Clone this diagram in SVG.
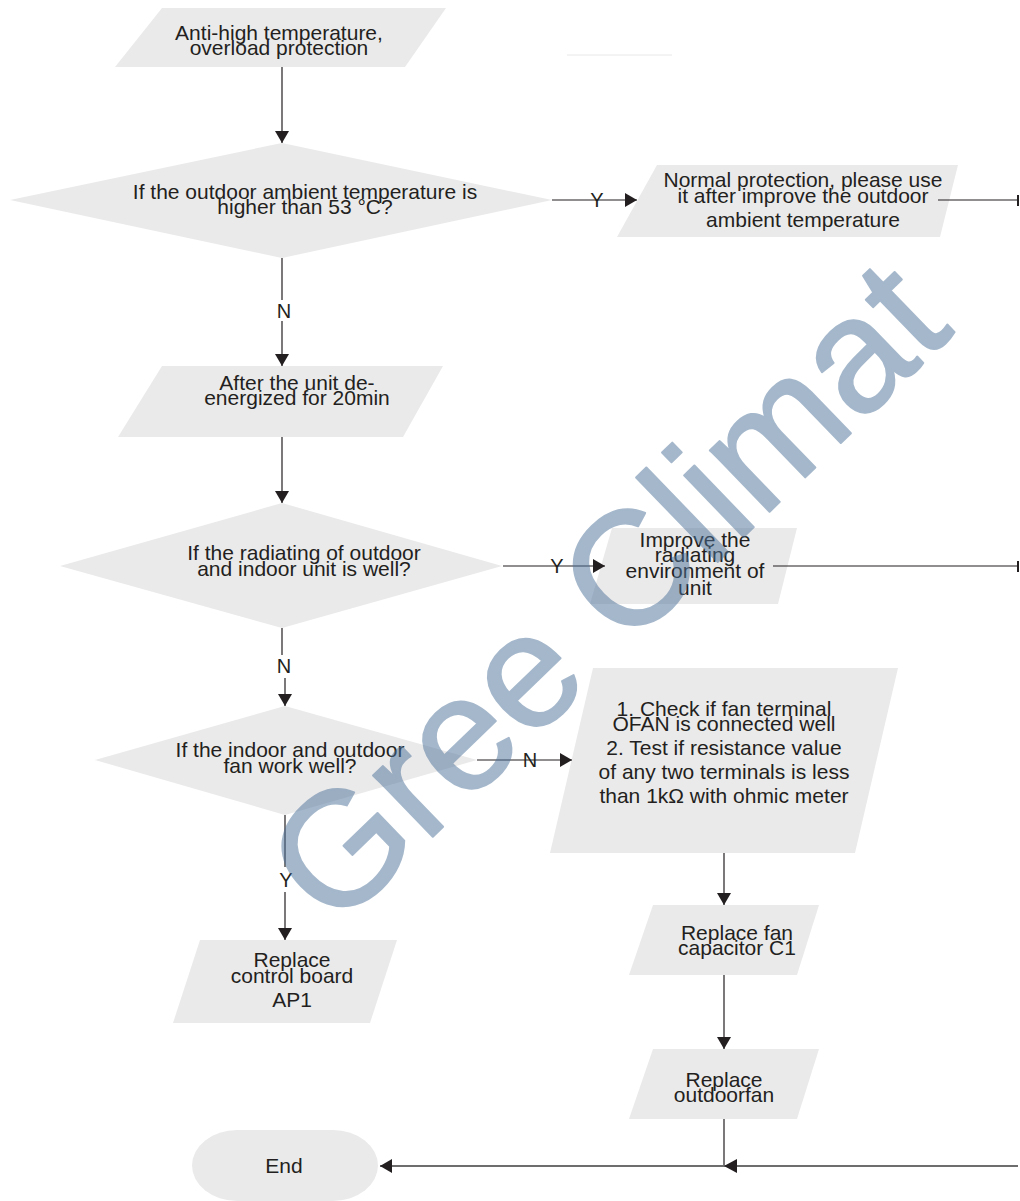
<svg xmlns="http://www.w3.org/2000/svg" width="1020" height="1201" viewBox="0 0 1020 1201">
<defs>
<style>
.n{fill:#ebeaeb;stroke:none}
.t{font-family:"Liberation Sans",Arial,sans-serif;font-size:21px;fill:#231f20;text-anchor:middle}
.c{stroke:#231f20;stroke-width:1.2;fill:none}
.lb{font-family:"Liberation Sans",Arial,sans-serif;font-size:20px;fill:#231f20;text-anchor:middle}
.wm{font-family:"Liberation Sans",Arial,sans-serif;font-size:162px;fill:#4b7199;stroke:#4b7199;stroke-width:2;stroke-linejoin:round;text-anchor:middle}
</style>
<marker id="ah" viewBox="0 0 12 14" refX="12" refY="7" markerWidth="12" markerHeight="14" markerUnits="userSpaceOnUse" orient="auto">
<path d="M0,0 L12,7 L0,14 Z" fill="#231f20"/>
</marker>
</defs>
<rect width="1020" height="1201" fill="#ffffff"/>
<line x1="567" y1="55" x2="672" y2="55" stroke="#e8e8e8" stroke-width="1"/>

<g id="n-start">
<polygon class="n" points="162,8 446,8 405,67 115,67"/>
<text class="t"><tspan x="279" y="40">Anti-high temperature,</tspan><tspan x="279" y="55">overload protection</tspan></text>
</g>
<g id="n-d1">
<polygon class="n" points="282,143 552,200 282,258 10,200"/>
<text class="t"><tspan x="305" y="199">If the outdoor ambient temperature is</tspan><tspan x="305" y="214">higher than 53 °C?</tspan></text>
</g>
<g id="n-normal">
<polygon class="n" points="657,165 958,165 940,237 617,237"/>
<text class="t"><tspan x="803" y="187">Normal protection, please use</tspan><tspan x="803" y="203">it after improve the outdoor</tspan><tspan x="803" y="227">ambient temperature</tspan></text>
</g>
<g id="n-after">
<polygon class="n" points="162,366 443,366 403,437 118,437"/>
<text class="t"><tspan x="297" y="390">After the unit de-</tspan><tspan x="297" y="405">energized for 20min</tspan></text>
</g>
<g id="n-d2">
<polygon class="n" points="282,503 502,566 282,628 60,566"/>
<text class="t"><tspan x="304" y="560">If the radiating of outdoor</tspan><tspan x="304" y="576">and indoor unit is well?</tspan></text>
</g>
<g id="n-improve">
<polygon class="n" points="612,528 797,528 778,604 590,604"/>
<text class="t"><tspan x="695" y="547">Improve the</tspan><tspan x="695" y="562">radiating</tspan><tspan x="695" y="578">environment of</tspan><tspan x="695" y="595">unit</tspan></text>
</g>
<g id="n-d3">
<polygon class="n" points="285,706 477,760 285,815 95,760"/>
<text class="t"><tspan x="290" y="757">If the indoor and outdoor</tspan><tspan x="290" y="773">fan work well?</tspan></text>
</g>
<g id="n-check">
<polygon class="n" points="593,668 898,668 855,853 550,853"/>
<text class="t"><tspan x="724" y="716">1. Check if fan terminal</tspan><tspan x="724" y="731">OFAN is connected well</tspan><tspan x="724" y="755">2. Test if resistance value</tspan><tspan x="724" y="779">of any two terminals is less</tspan><tspan x="724" y="803">than 1kΩ with ohmic meter</tspan></text>
</g>
<g id="n-cap">
<polygon class="n" points="653,905 819,905 797,975 629,975"/>
<text class="t"><tspan x="737" y="940">Replace fan</tspan><tspan x="737" y="955">capacitor C1</tspan></text>
</g>
<g id="n-fan">
<polygon class="n" points="653,1049 819,1049 797,1119 629,1119"/>
<text class="t"><tspan x="724" y="1087">Replace</tspan><tspan x="724" y="1102">outdoorfan</tspan></text>
</g>
<g id="n-board">
<polygon class="n" points="200,940 397,940 370,1023 173,1023"/>
<text class="t"><tspan x="292" y="967">Replace</tspan><tspan x="292" y="983">control board</tspan><tspan x="292" y="1007">AP1</tspan></text>
</g>
<g id="n-end">
<rect class="n" x="192" y="1130" width="186" height="71" rx="45" ry="36"/>
<text class="t" x="284" y="1173">End</text>
</g>

<g id="connectors">
<line class="c" x1="282" y1="67" x2="282" y2="143" marker-end="url(#ah)"/>
<line class="c" x1="552" y1="200" x2="637" y2="200" marker-end="url(#ah)"/>
<line class="c" x1="938" y1="200" x2="1018" y2="200"/>
<line x1="1018" y1="195" x2="1018" y2="206" stroke="#231f20" stroke-width="2"/>
<line class="c" x1="282" y1="258" x2="282" y2="300"/>
<line class="c" x1="282" y1="321" x2="282" y2="366" marker-end="url(#ah)"/>
<line class="c" x1="282" y1="437" x2="282" y2="503" marker-end="url(#ah)"/>
<line class="c" x1="503" y1="566" x2="605" y2="566" marker-end="url(#ah)"/>
<line class="c" x1="773" y1="566" x2="1018" y2="566"/>
<line x1="1018" y1="561" x2="1018" y2="572" stroke="#231f20" stroke-width="2"/>
<line class="c" x1="282" y1="628" x2="282" y2="655"/>
<line class="c" x1="285" y1="678" x2="285" y2="706" marker-end="url(#ah)"/>
<line class="c" x1="477" y1="760" x2="572" y2="760" marker-end="url(#ah)"/>
<line class="c" x1="285" y1="815" x2="285" y2="867"/>
<line class="c" x1="285" y1="892" x2="285" y2="940" marker-end="url(#ah)"/>
<line class="c" x1="724" y1="853" x2="724" y2="905" marker-end="url(#ah)"/>
<line class="c" x1="724" y1="975" x2="724" y2="1049" marker-end="url(#ah)"/>
<line class="c" x1="724" y1="1119" x2="724" y2="1166"/>
<line x1="1018" y1="1166" x2="380" y2="1166" stroke="#6d6d6d" stroke-width="2"/>
<path d="M380,1166 L392,1159 L392,1173 Z" fill="#231f20"/>
<path d="M724,1166 L737,1159 L737,1173 Z" fill="#231f20"/>
<text class="lb" x="597" y="207">Y</text>
<text class="lb" x="284" y="318">N</text>
<text class="lb" x="557" y="573">Y</text>
<text class="lb" x="284" y="673">N</text>
<text class="lb" x="530" y="767">N</text>
<text class="lb" x="286" y="887">Y</text>
</g>

<text class="wm" opacity="0.5" transform="translate(645,632) rotate(-44)">Gree Climat</text>
</svg>
